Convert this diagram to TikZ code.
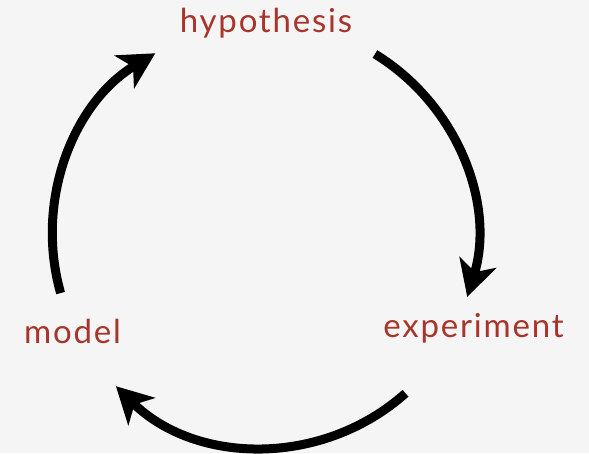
\documentclass[tikz,border=0pt]{standalone}
\usepackage{fontspec}
\setmainfont{Lato}[LetterSpace=5.5]
\usetikzlibrary{arrows.meta}
\definecolor{bg}{HTML}{F5F5F5}
\definecolor{lbl}{HTML}{A8352B}
\begin{document}
\begin{tikzpicture}[x=1pt,y=1pt,
  lab/.style={text=lbl,font=\fontsize{33}{36}\selectfont,anchor=base,inner sep=0pt},
  cyc/.style={line width=9pt,line cap=butt,-{Stealth[length=36pt,width=38pt,inset=10pt]}}]
\fill[bg] (0,0) rectangle (589,453);
\useasboundingbox (0,0) rectangle (589,453);
\coordinate (c) at (264.5,218);
\node[lab] (hyp) at (266,420) {hypothesis};
\node[lab] (exp) at (473.5,116) {experiment};
\node[lab] (mod) at (72.5,110) {model};
\draw[cyc] ([shift={(58.6:212)}]c) arc[start angle=58.6,end angle=-17,radius=212];
\draw[cyc] ([shift={(-48.3:212)}]c) arc[start angle=-48.3,end angle=-134.5,radius=212];
\draw[cyc] ([shift={(195.9:212)}]c) arc[start angle=195.9,end angle=121,radius=212];
\end{tikzpicture}
\end{document}
